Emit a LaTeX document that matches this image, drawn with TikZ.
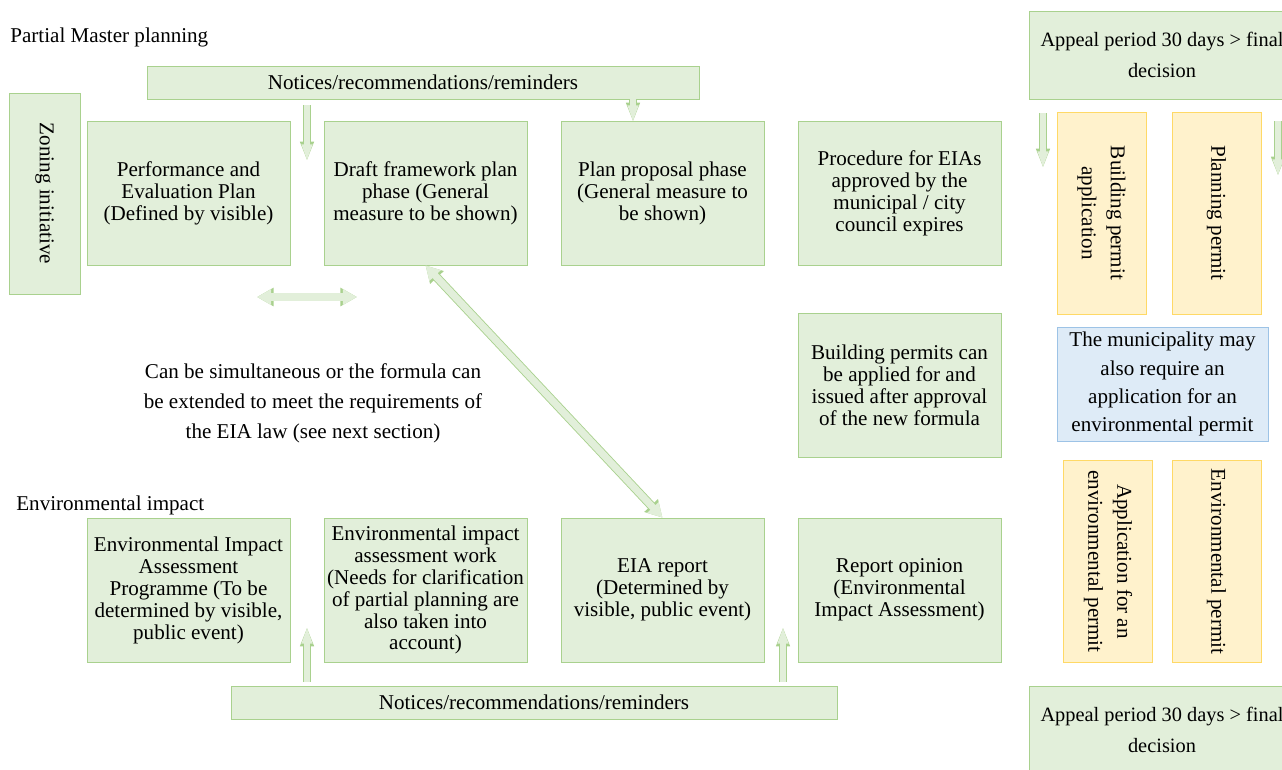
\documentclass[tikz,border=0pt]{standalone}
\usepackage{fontspec}
\setmainfont{Liberation Serif}
\usetikzlibrary{positioning}
\usetikzlibrary{arrows.meta}
\definecolor{grnfill}{HTML}{E2EFDA}
\definecolor{grnline}{HTML}{A9D18E}
\definecolor{ylwfill}{HTML}{FFF2CC}
\definecolor{ylwline}{HTML}{FFD966}
\definecolor{bluefill}{HTML}{DEEBF7}
\definecolor{blueline}{HTML}{9DC3E6}
\tikzset{box/.style={draw=grnline, fill=grnfill, align=center, minimum width=4.06cm, minimum height=2.88cm, inner sep=1pt}}
\tikzset{bar/.style={draw=grnline, fill=grnfill, minimum height=0.66cm, inner sep=1pt}}
\tikzset{tall/.style={draw=ylwline, fill=ylwfill, align=center, rotate=-90, minimum width=4.04cm, minimum height=1.78cm, inner sep=1pt, font=\fontsize{12}{16.5}\selectfont}}
\tikzset{note/.style={draw=blueline, fill=bluefill, align=center, minimum width=4.22cm, minimum height=2.28cm, inner sep=1pt, font=\fontsize{12}{16}\selectfont}}
\tikzset{appeal/.style={draw=grnline, fill=grnfill, align=center, minimum width=5.32cm, minimum height=1.76cm, inner sep=1pt, font=\fontsize{11.6}{17.5}\selectfont}}
\tikzset{fat/.style={line width=3pt, draw=grnfill, -{Triangle[length=9.5pt,width=5.6pt]}, preaction={draw=grnline, line width=4pt, -{Triangle[length=11pt,width=7.2pt]}}}}
\tikzset{fatboth/.style={line width=4pt, draw=grnfill, {Triangle[length=8pt,width=8.4pt]}-{Triangle[length=8pt,width=8.4pt]}, preaction={draw=grnline, line width=5pt, {Triangle[length=9.5pt,width=10pt]}-{Triangle[length=9.5pt,width=10pt]}}}}

\begin{document}
\begin{tikzpicture}[x=0.02cm, y=-0.02cm, node distance=0.667cm, font=\fontsize{12}{12.5}\selectfont]
\useasboundingbox (0,0) rectangle (1282,769);
\clip (0,0) rectangle (1282,769);

% planning row
\node[anchor=west, inner sep=0pt] (lplan) at (10,37) {Partial Master planning};
\node[bar, minimum width=11.04cm] (ntop) at (423,82.5) {Notices/recommendations/reminders};
\node[draw=grnline, fill=grnfill, rotate=-90, minimum width=4.02cm, minimum height=1.42cm] (zone) at (44.5,193.5) {Zoning initiative};
\node[box] (perf) at (188.5,193) {Performance and\\Evaluation Plan\\(Defined by visible)};
\node[box, right=of perf] (draft) {Draft framework plan\\phase (General\\measure to be shown)};
\node[box, right=of draft] (plan) {Plan proposal phase\\(General measure to\\be shown)};
\node[box, right=of plan] (proc) {Procedure for EIAs\\approved by the\\municipal / city\\council expires};
\node[box, anchor=north] (bperm) at (899.5,313) {Building permits can\\be applied for and\\issued after approval\\of the new formula};

\node[align=center, font=\fontsize{12}{17}\selectfont] (simul) at (313,403) {Can be simultaneous or the formula can\\be extended to meet the requirements of\\the EIA law (see next section)};

% environmental row
\node[anchor=west, inner sep=0pt] (lenv) at (16,505) {Environmental impact};
\node[box] (eiap) at (188.5,590) {Environmental Impact\\Assessment\\Programme (To be\\determined by visible,\\public event)};
\node[box, right=of eiap] (eiaw) {Environmental impact\\assessment work\\(Needs for clarification\\of partial planning are\\also taken into\\account)};
\node[box, right=of eiaw] (eiar) {EIA report\\(Determined by\\visible, public event)};
\node[box, right=of eiar] (opin) {Report opinion\\(Environmental\\Impact Assessment)};
\node[bar, minimum width=12.12cm] (nbot) at (534,702.5) {Notices/recommendations/reminders};

% permits column
\node[appeal] (apptop) at (1162,55) {Appeal period 30 days > final\\decision};
\node[tall] (bpa) at (1101.5,213) {Building permit\\application};
\node[tall] (pp) at (1216.5,213) {Planning permit};
\node[note] (muni) at (1162.5,384) {The municipality may\\also require an\\application for an\\environmental permit};
\node[tall] (aep) at (1108,561.5) {Application for an\\environmental permit};
\node[tall] (ep) at (1216.5,561.5) {Environmental permit};
\node[appeal] (appbot) at (1162,730) {Appeal period 30 days > final\\decision};

\coordinate (t1) at (307,105);
\coordinate (t2) at (307,161);
\coordinate (t3) at (633,99);
\coordinate (t4) at (633,122);
\coordinate (h1) at (257,297);
\coordinate (h2) at (357,297);
\coordinate (b1) at (307,682);
\coordinate (b2) at (307,627);
\coordinate (b3) at (783,682);
\coordinate (b4) at (783,627);
\coordinate (r1) at (1043,113);
\coordinate (r2) at (1043,168);
\coordinate (r3) at (1278,121);
\coordinate (r4) at (1278,176);

\draw[fat] (t1) -- (t2);
\draw[fat] (t3) -- (t4);
\draw[fatboth] (h1) -- (h2);
\draw[fatboth] (draft.south) -- (eiar.north);
\draw[fat] (b1) -- (b2);
\draw[fat] (b3) -- (b4);
\draw[fat] (r1) -- (r2);
\draw[fat] (r3) -- (r4);
\end{tikzpicture}
\end{document}
